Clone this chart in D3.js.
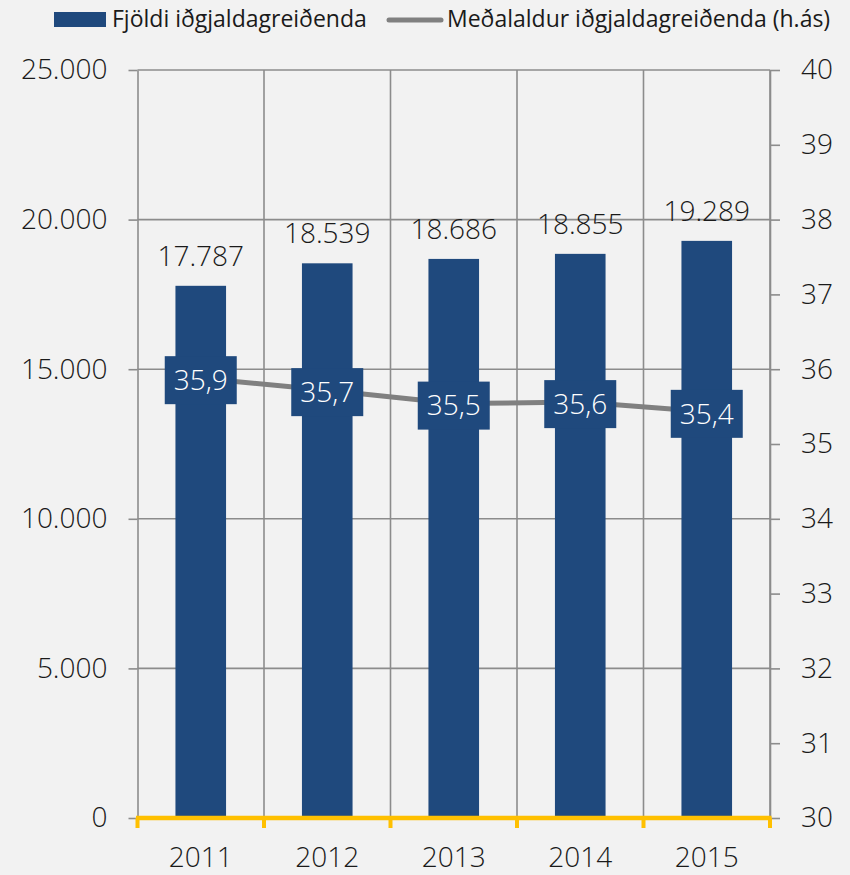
<!DOCTYPE html>
<html>
<head>
<meta charset="utf-8">
<script src="https://cdn.jsdelivr.net/npm/d3@7"></script>
<style>
  html, body { margin: 0; padding: 0; background: #f2f2f2; }
  svg { display: block; font-family: "Open Sans", "Noto Sans", sans-serif; }
</style>
</head>
<body>
<svg id="chart" width="850" height="875"></svg>
<script>
// ---- data ----
const years = ["2011", "2012", "2013", "2014", "2015"];
const payers = [17787, 18539, 18686, 18855, 19289];
const avgAge = [35.88, 35.72, 35.54, 35.56, 35.43];
const leftTicks = [0, 5000, 10000, 15000, 20000, 25000];
const rightTicks = [30, 31, 32, 33, 34, 35, 36, 37, 38, 39, 40];
const legendLabels = ["Fjöldi iðgjaldagreiðenda", "Meðalaldur iðgjaldagreiðenda (h.ás)"];

(function () {
// ---- styling ----
const barColor = "#1f497d";
const lineColor = "#808080";
const gridColor = "#8c8c8c";
const axisYellow = "#ffc000";
const textColor = "#1a1a1a";

const locale = d3.formatLocale({ decimal: ",", thousands: ".", grouping: [3], currency: ["", " kr"] });
const fmtInt = locale.format(",.0f");
const fmtDec = locale.format(",.1f");

const pLeft = 137.5, pRight = 770, pTop = 70, pBottom = 818;
const svg = d3.select("#chart");

const xCat = d3.scaleBand().domain(years).range([pLeft, pRight]).padding(0);
const xBar = d3.scaleBand().domain(years).range([pLeft, pRight]).paddingInner(0.6).paddingOuter(0.3);
const yL = d3.scaleLinear().domain([0, 25000]).range([pBottom, pTop]);
const yR = d3.scaleLinear().domain([30, 40]).range([pBottom, pTop]);

// background
svg.append("rect").attr("width", 850).attr("height", 875).attr("fill", "#f2f2f2");

// horizontal gridlines
svg.append("g").selectAll("line").data(leftTicks.filter(d => d > 0)).join("line")
  .attr("x1", pLeft).attr("x2", pRight)
  .attr("y1", d => yL(d)).attr("y2", d => yL(d))
  .attr("stroke", gridColor).attr("stroke-width", 1.6);

// vertical gridlines at category boundaries
const bounds = years.map(y => xCat(y)).concat([xCat(years[years.length - 1]) + xCat.bandwidth()]);
svg.append("g").selectAll("line").data(bounds.slice(1)).join("line")
  .attr("x1", d => d).attr("x2", d => d)
  .attr("y1", pTop).attr("y2", pBottom)
  .attr("stroke", gridColor).attr("stroke-width", 1.6);

// left axis
const gL = svg.append("g").attr("transform", `translate(${pLeft},0)`)
  .call(d3.axisLeft(yL).tickValues(leftTicks).tickFormat(fmtInt).tickSizeOuter(0).tickSizeInner(9).tickPadding(21));
gL.select(".domain").attr("stroke", gridColor).attr("stroke-width", 1.6);
gL.selectAll(".tick line").attr("stroke", gridColor).attr("stroke-width", 1.6);
gL.selectAll(".tick text").attr("fill", textColor).attr("font-size", 28).attr("font-weight", 300)
  .attr("font-family", "Open Sans");

// right axis
const gR = svg.append("g").attr("transform", `translate(${pRight},0)`)
  .call(d3.axisRight(yR).tickValues(rightTicks).tickFormat(d3.format("d")).tickSizeOuter(0).tickSizeInner(10).tickPadding(21));
gR.select(".domain").attr("stroke", gridColor).attr("stroke-width", 1.6);
gR.selectAll(".tick line").attr("stroke", gridColor).attr("stroke-width", 1.6);
gR.selectAll(".tick text").attr("fill", textColor).attr("font-size", 28).attr("font-weight", 300)
  .attr("font-family", "Open Sans");

// bars
svg.append("g").selectAll("rect").data(years).join("rect")
  .attr("x", d => xBar(d)).attr("width", xBar.bandwidth())
  .attr("y", (d, i) => yL(payers[i])).attr("height", (d, i) => yL(0) - yL(payers[i]))
  .attr("fill", barColor);

// bar value labels
svg.append("g").selectAll("text").data(years).join("text")
  .attr("x", d => xCat(d) + xCat.bandwidth() / 2)
  .attr("y", (d, i) => yL(payers[i]) - 20)
  .attr("text-anchor", "middle").attr("font-size", 28).attr("font-weight", 300)
  .attr("fill", textColor)
  .text((d, i) => fmtInt(payers[i]));

// bottom axis (yellow)
const gX = svg.append("g");
gX.append("line").attr("x1", pLeft - 1.5).attr("x2", pRight + 1.5)
  .attr("y1", pBottom).attr("y2", pBottom)
  .attr("stroke", axisYellow).attr("stroke-width", 4.5);
gX.selectAll("line.tk").data(bounds).join("line").attr("class", "tk")
  .attr("x1", d => d).attr("x2", d => d)
  .attr("y1", pBottom).attr("y2", pBottom + 10)
  .attr("stroke", axisYellow).attr("stroke-width", 4);
gX.selectAll("text").data(years).join("text")
  .attr("x", d => xCat(d) + xCat.bandwidth() / 2)
  .attr("y", 867)
  .attr("text-anchor", "middle").attr("font-size", 28).attr("font-weight", 300)
  .attr("fill", textColor)
  .text(d => d);

// line
const line = d3.line()
  .x((d, i) => xCat(years[i]) + xCat.bandwidth() / 2)
  .y(d => yR(d));
svg.append("path").datum(avgAge)
  .attr("d", line).attr("fill", "none")
  .attr("stroke", lineColor).attr("stroke-width", 5).attr("stroke-linejoin", "round");

// line labels (boxes)
const lbl = svg.append("g").selectAll("g").data(avgAge).join("g")
  .attr("transform", (d, i) => `translate(${xCat(years[i]) + xCat.bandwidth() / 2},${yR(d) + 2})`);
lbl.append("rect").attr("x", -36).attr("y", -24).attr("width", 72).attr("height", 48).attr("fill", barColor);
lbl.append("text").attr("text-anchor", "middle").attr("dy", "0.35em")
  .attr("font-size", 28).attr("font-weight", 300).attr("fill", "#ffffff")
  .text(d => fmtDec(d));

// legend
const lg = svg.append("g");
lg.append("rect").attr("x", 54).attr("y", 12).attr("width", 52).attr("height", 15).attr("fill", barColor);
lg.append("text").attr("x", 112).attr("y", 27).attr("font-size", 23).attr("font-weight", 400)
  .attr("fill", textColor).text(legendLabels[0]);
lg.append("line").attr("x1", 389).attr("x2", 441).attr("y1", 20).attr("y2", 20)
  .attr("stroke", lineColor).attr("stroke-width", 5).attr("stroke-linecap", "round");
lg.append("text").attr("x", 447).attr("y", 27).attr("font-size", 23).attr("font-weight", 400)
  .attr("fill", textColor).text(legendLabels[1]);
})();
</script>
</body>
</html>
